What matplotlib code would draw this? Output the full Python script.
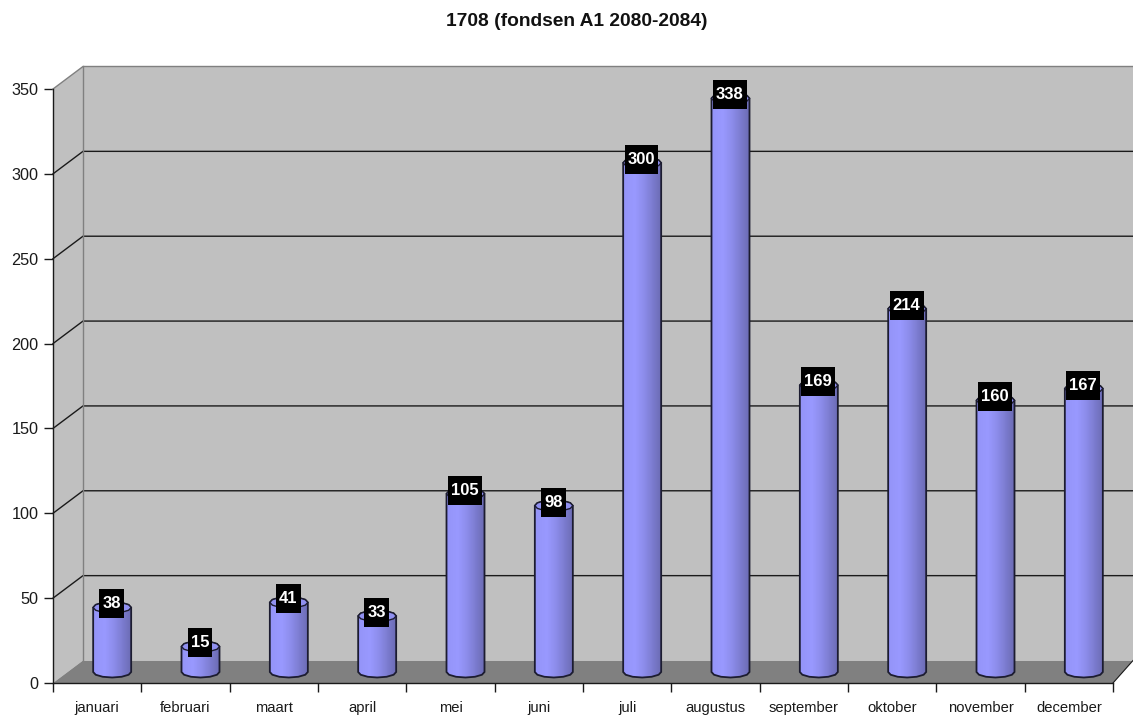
#!/usr/bin/env python3
import numpy as np
import matplotlib
matplotlib.use("Agg")
import matplotlib.pyplot as plt
from matplotlib.colors import LinearSegmentedColormap
from matplotlib.patches import PathPatch, Polygon
from matplotlib.path import Path

plt.rcParams["font.family"] = ["Liberation Sans", "DejaVu Sans"]

TITLE = "1708 (fondsen A1 2080-2084)"
MONTHS = ["januari", "februari", "maart", "april", "mei", "juni", "juli",
          "augustus", "september", "oktober", "november", "december"]
VALUES = [38, 15, 41, 33, 105, 98, 300, 338, 169, 214, 160, 167]
Y_TICKS = [0, 50, 100, 150, 200, 250, 300, 350]

W, H = 1133, 716
LEFT, RIGHT, TOP, BOTTOM = 53, 1113, 89, 683

# depth of the fake 3d box, in data units
DX = 30 / 88.33
DY = 22.5 / 1.697
BAR_DX = 15 / 88.33
BAR_DY = 11 / 1.697
BAR_HW = 19 / 88.33
CAP_HH = 5.5 / 1.697

bar_cmap = LinearSegmentedColormap.from_list(
    "cyl", [(0, "#9494F8"), (0.3, "#9999FF"), (0.55, "#8C8CEA"), (1, "#6A6AB2")])


def cylinder_path(xc, top, base):
    # low-poly ellipse arcs, the original is quite angular
    t = np.linspace(np.pi, 2 * np.pi, 7)
    low_x = xc + BAR_HW * np.cos(t)
    low_y = base + CAP_HH * np.sin(t)
    up_x = xc + BAR_HW * np.cos(t[::-1])
    up_y = top - CAP_HH * np.sin(t[::-1])
    xs = np.concatenate([low_x, up_x, low_x[:1]])
    ys = np.concatenate([low_y, up_y, low_y[:1]])
    return Path(np.column_stack([xs, ys]), closed=True)


def cap_polygon(xc, top):
    t = np.linspace(0, 2 * np.pi, 13)[:-1]
    return np.column_stack([xc + BAR_HW * np.cos(t), top + CAP_HH * np.sin(t)])


def label_box(x0, y0, width, height, mutation_size):
    # fixed 29px tall black box, 3px either side of the digits
    cy = y0 + height / 2
    xa, xb = x0 - 3, x0 + width + 3
    ya, yb = cy - 14.5, cy + 14.5
    return Path([(xa, ya), (xb, ya), (xb, yb), (xa, yb), (xa, ya)], closed=True)


fig = plt.figure(figsize=(W / 100, H / 100), dpi=100, facecolor="white")
ax = fig.add_axes([LEFT / W, 1 - BOTTOM / H, (RIGHT - LEFT) / W, (BOTTOM - TOP) / H])
ax.patch.set_visible(False)

n = len(MONTHS)
y_max = Y_TICKS[-1]
x_end = n + 20 / 88.33

# walls and floor
ax.add_patch(Polygon([(DX, DY), (x_end, DY), (x_end, y_max + DY), (DX, y_max + DY)],
                     facecolor="#C0C0C0", edgecolor="none", clip_on=False, zorder=1))
ax.add_patch(Polygon([(0, 0), (DX, DY), (DX, y_max + DY), (0, y_max)],
                     facecolor="#C0C0C0", edgecolor="none", clip_on=False, zorder=1))
ax.add_patch(Polygon([(0, 0), (n, 0), (x_end, DY), (DX, DY)],
                     facecolor="#808080", edgecolor="none", clip_on=False, zorder=1))

# gridlines, along the side wall then the back wall
for v in Y_TICKS[1:-1]:
    ax.plot([0, DX, x_end], [v, v + DY, v + DY], color="#1A1A1A", lw=1,
            clip_on=False, zorder=2, solid_joinstyle="miter")
ax.plot([0, DX, x_end], [y_max, y_max + DY, y_max + DY], color="#808080", lw=1,
        clip_on=False, zorder=2)
ax.plot([DX, DX], [DY, y_max + DY], color="#808080", lw=1, clip_on=False, zorder=2)
ax.plot([n, x_end], [0, DY], color="#1A1A1A", lw=0.8, clip_on=False, zorder=2)

# cylinders
grad = np.linspace(0, 1, 64).reshape(1, -1)
for i, val in enumerate(VALUES):
    xc = i + 0.5 + BAR_DX
    top = val + BAR_DY
    base = BAR_DY
    ax.add_patch(PathPatch(cylinder_path(xc, top, base), facecolor="none",
                           edgecolor="#1C1C30", lw=1.3, clip_on=False, zorder=4))
    im = ax.imshow(grad, cmap=bar_cmap, aspect="auto", zorder=3,
                   extent=[xc - BAR_HW, xc + BAR_HW, base - CAP_HH, top + CAP_HH])
    im.set_clip_path(PathPatch(cylinder_path(xc, top, base), transform=ax.transData))
    ax.add_patch(Polygon(cap_polygon(xc, top), facecolor="#9090F0",
                         edgecolor="#1C1C30", lw=1, clip_on=False, zorder=5))
    ax.text(xc - 0.006, top + 2.1, str(val), color="white", fontsize=12, fontweight="bold",
            ha="center", va="center", zorder=7, clip_on=False,
            bbox=dict(boxstyle=label_box, facecolor="black", edgecolor="black", lw=0))

ax.set_xlim(0, n)
ax.set_ylim(0, y_max)

ax.set_xticks(np.arange(n + 1))
ax.set_xticklabels([])
ax.set_xticks(np.arange(n) + 0.5, MONTHS, minor=True)
ax.tick_params(axis="x", which="major", length=6.5, width=1, color="#1A1A1A")
ax.tick_params(axis="x", which="minor", length=0, pad=13, labelsize=10.6, labelcolor="#1A1A1A")
ax.set_yticks(Y_TICKS)
ax.tick_params(axis="y", length=6.5, width=1, color="#1A1A1A", pad=4,
               labelsize=11.7, labelcolor="#1A1A1A")

for side in ("top", "right"):
    ax.spines[side].set_visible(False)
for side in ("left", "bottom"):
    ax.spines[side].set_linewidth(1)
    ax.spines[side].set_color("#1A1A1A")
    ax.spines[side].set_zorder(2.5)

fig.text(576.5 / W, 1 - 22 / H, TITLE, ha="center", va="center", fontsize=13.8,
         fontweight="bold", color="#111111")

fig.savefig("out.png", dpi=100, facecolor="white")
plt.close(fig)
